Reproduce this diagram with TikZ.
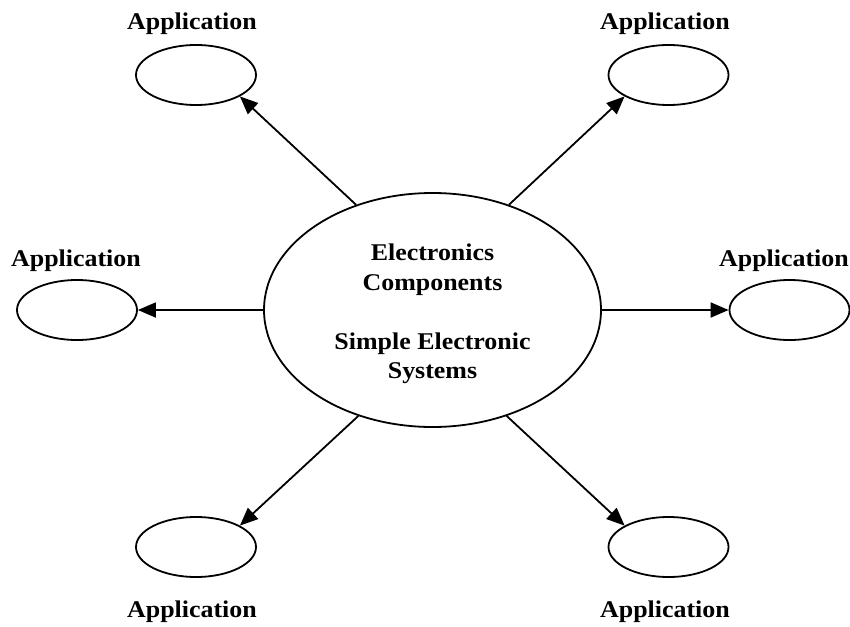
\documentclass[tikz,border=0pt]{standalone}
\usepackage{fontspec}
\setmainfont{Liberation Serif}[FakeStretch=1.08]
\usetikzlibrary{arrows.meta,shapes.geometric}
\begin{document}
\begin{tikzpicture}[x=1pt,y=-1pt,
  lw/.style={line width=1.8pt},
  app/.style={draw,lw,ellipse,minimum width=120pt,minimum height=60pt,inner sep=0pt},
  hub/.style={draw,lw,ellipse,minimum width=337pt,minimum height=234pt,inner sep=0pt},
  lbl/.style={anchor=base,inner sep=0pt,font=\fontsize{24}{30}\selectfont\bfseries},
  conn/.style={lw,-{Triangle[length=18pt,width=15pt]}}]
\useasboundingbox (0,0) rectangle (850,626);
\node[hub] (c) at (432.5,310) {};
\node[app] (tl) at (196,75) {};
\node[app] (tr) at (668.5,75) {};
\node[app] (l) at (77,310) {};
\node[app] (r) at (789.5,310) {};
\node[app] (bl) at (196,547) {};
\node[app] (br) at (668.5,547) {};
\node[lbl] (ltl) at (192,30) {Application};
\node[lbl] (ltr) at (665,30) {Application};
\node[lbl] (ll) at (76,266) {Application};
\node[lbl] (lr) at (784,266) {Application};
\node[lbl] (lbl1) at (192,617) {Application};
\node[lbl] (lbr) at (665,617) {Application};
\node[lbl] (t1) at (432.5,260) {Electronics};
\node[lbl] (t2) at (432.5,290) {Components};
\node[lbl] (t3) at (432.5,349) {Simple Electronic};
\node[lbl] (t4) at (432.5,378) {Systems};
\draw[conn] (c.126) -- (tl.-26);
\draw[conn] (c.54) -- (tr.206);
\draw[conn] (c.180) -- (l.0);
\draw[conn] (c.0) -- (r.180);
\draw[conn] (c.235) -- (bl.26);
\draw[conn] (c.-55) -- (br.154);
\end{tikzpicture}
\end{document}
